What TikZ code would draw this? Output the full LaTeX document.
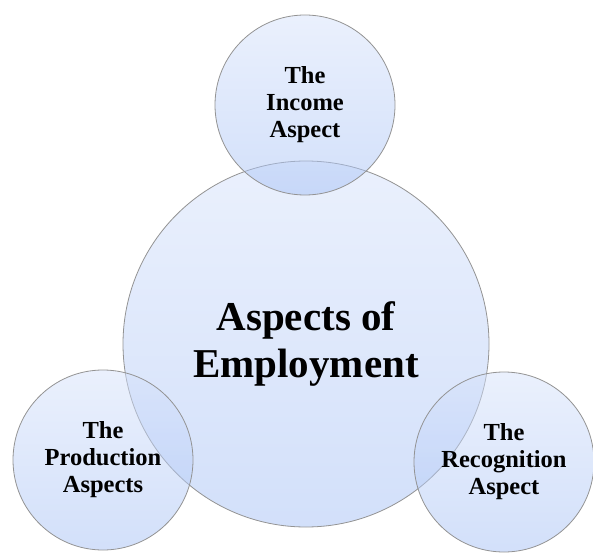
\documentclass[tikz,border=0pt]{standalone}
\usepackage{fontspec}
\setmainfont{Liberation Serif}
\usepackage{tikz}

\begin{document}
\begin{tikzpicture} [x=1pt, y=1pt,
  bubble/.style={circle, inner sep=0pt, draw=gray!85, line width=0.8pt,
     top color={rgb,255:red,214;green,226;blue,251},
     bottom color={rgb,255:red,166;green,193;blue,245},
     fill opacity=0.5, draw opacity=1, text opacity=1,
     align=center, font=\bfseries},
  small/.style={bubble, minimum size=180pt,
     font=\bfseries\fontsize{24.5}{27}\selectfont},
  big/.style={bubble, minimum size=366pt,
     font=\bfseries\fontsize{41}{47}\selectfont}]

 \useasboundingbox (0,0) rectangle (593,552);

 % centre circle first, the three smaller ones on top of it
 \node[big] (employ) at (306,208) {Aspects of\\Employment};

 \node[small] (income) at (305,447) {The\\Income\\Aspect};
 \node[small] (prod) at (103,92) {The\\Production\\Aspects};
 \node[small] (recog) at (504,90) {The\\Recognition\\Aspect};

\end{tikzpicture}
\end{document}
